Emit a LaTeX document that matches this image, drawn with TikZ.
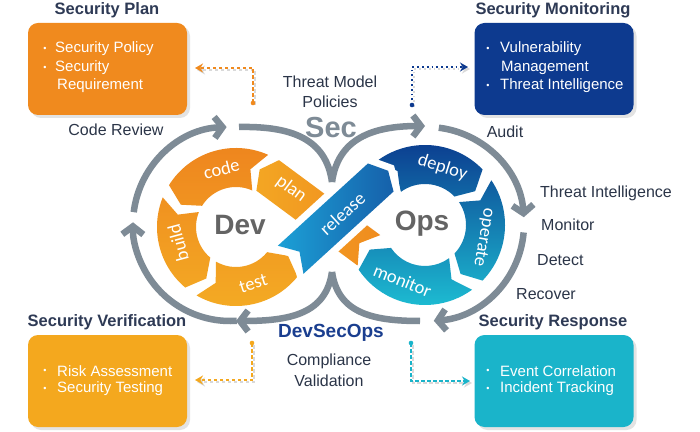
\documentclass[tikz,border=0pt]{standalone}
\usepackage{fontspec}
\setmainfont{Liberation Sans}
\newfontfamily\segfont{Carlito}
\usetikzlibrary{arrows.meta,calc,shadows}
\definecolor{loopgray}{RGB}{126,139,150}
\definecolor{txtdark}{RGB}{43,53,72}
\definecolor{titledark}{RGB}{46,58,85}
\definecolor{devtop}{RGB}{238,132,30}
\definecolor{devbot}{RGB}{244,172,36}
\definecolor{ordark}{RGB}{240,140,31}
\definecolor{orlight}{RGB}{243,166,35}
\definecolor{opstop}{RGB}{11,58,142}
\definecolor{opsmid}{RGB}{26,110,180}
\definecolor{opsbot}{RGB}{29,190,211}
\definecolor{relhead}{RGB}{22,96,170}
\definecolor{reltail}{RGB}{28,160,214}
\definecolor{planor}{RGB}{240,138,30}
\definecolor{monblue}{RGB}{13,58,143}
\definecolor{verior}{RGB}{244,168,30}
\definecolor{respcyan}{RGB}{26,180,202}
\definecolor{dsoblue}{RGB}{26,62,143}
\definecolor{devgray}{RGB}{100,100,100}
\newcommand\ringseg[5]{(#1:#5) arc[start angle=#1,end angle=#2,radius=#5] -- ({#2+#3}:{(#4+#5)/2}) -- (#2:#4) arc[start angle=#2,end angle=#1,radius=#4] -- ({#1+#3}:{(#4+#5)/2}) -- cycle}
\begin{document}
\begin{tikzpicture}[x=1pt,y=1pt,
  loopline/.style={draw=loopgray,line width=6.5pt},
  garrow/.style={-{Straight Barb[length=8pt,width=21pt]}},
  segtext/.style={font=\segfont\fontsize{18.5}{18.5}\selectfont,text=white,inner sep=0pt},
  lab/.style={font=\fontsize{16}{18}\selectfont,text=txtdark,inner sep=0pt},
  boxtitle/.style={font=\bfseries\fontsize{16.5}{18}\selectfont,text=titledark,inner sep=0pt},
  boxtext/.style={font=\fontsize{15}{16}\selectfont,text=white,inner sep=0pt,anchor=west},
  bul/.style={font=\fontsize{9}{10}\selectfont,text=white,inner sep=0pt},
  box/.style={rounded corners=10pt,minimum width=159pt,minimum height=92pt,inner sep=0pt,drop shadow={shadow xshift=3pt,shadow yshift=-3pt,opacity=0.22}},
  dashline/.style={line width=1.4pt,dash pattern=on 3.5pt off 2.5pt},
  dotline/.style={line width=1.8pt,dash pattern=on 1.8pt off 3pt},
  dtip/.style={-{Stealth[length=8pt,width=9pt]}}
]
\fill[white] (0,0) rectangle (700,431);
\useasboundingbox (0,0) rectangle (700,431);
\coordinate (L) at (230,207);
\coordinate (R) at (427,207);
\coordinate (DC) at (236,204);
\coordinate (OC) at (425,206);
% gray loop
\begin{scope}[loopline]
\draw[garrow] ($(L)+(-86:97)$) arc[start angle=-86,end angle=-181,radius=97];
\draw[garrow] ($(L)+(173:97)$) arc[start angle=173,end angle=92,radius=97];
\draw (239,304) .. controls (292,305) and (326,292) .. (332,249);
\draw[garrow] (332,249) .. controls (338,292) and (372,305) .. (425,305);
\draw[garrow] ($(R)+(83:97)$) arc[start angle=83,end angle=4,radius=97];
\draw[garrow] ($(R)+(-5:97)$) arc[start angle=-5,end angle=-86,radius=97];
\draw[garrow] (332,159) .. controls (326,118) and (292,110) .. (236,110);
\draw (332,159) .. controls (338,118) and (372,110) .. (420,110);
\end{scope}
% orange band (monitor -> plan)
\begin{scope}[shift={(332,208)},rotate=143.5]
\shade[left color=orlight,right color=ordark] (-46,19) -- (80,19) -- (90,0) -- (80,-19) -- (-46,-19) -- (-34,0) -- cycle;
\node[segtext,rotate=-36.5] (plantxt) at (53,-3) {plan};
\end{scope}
% Dev ring
\begin{scope}[shift={(DC)}]
\filldraw[white,line width=6pt] \ringseg{66}{148}{10}{40}{79} \ringseg{158}{230}{10}{40}{79} \ringseg{240}{321}{10}{40}{79};
\shade[top color=devtop,bottom color=devbot] \ringseg{66}{148}{10}{40}{79} \ringseg{158}{230}{10}{40}{79} \ringseg{240}{321}{10}{40}{79};
\node[segtext,rotate=14] (codetxt) at (104:60) {code};
\node[segtext,rotate=105] (buildtxt) at (195:60) {build};
\node[segtext,rotate=17] (testtxt) at (287:59) {test};
\end{scope}
% Ops ring
\begin{scope}[shift={(OC)}]
\filldraw[white,line width=6pt] \ringseg{127}{44}{-10}{41}{80} \ringseg{34}{-44}{-10}{41}{80} \ringseg{-54}{-146}{-10}{41}{80};
\shade[top color=opstop,middle color=opsmid,bottom color=opsbot] \ringseg{127}{44}{-10}{41}{80} \ringseg{34}{-44}{-10}{41}{80} \ringseg{-54}{-146}{-10}{41}{80};
\node[segtext,rotate=-17] (deploytxt) at (73:60) {deploy};
\node[segtext,rotate=-100] (operatetxt) at (-12:60) {operate};
\node[segtext,rotate=-22] (monitortxt) at (248:60) {monitor};
\end{scope}
% release
\begin{scope}[shift={(332,209)},rotate=42.4]
\filldraw[white,line width=14pt] (-56,19) -- (66,19) -- (76,0) -- (66,-19) -- (-56,-19) -- (-44,0) -- cycle;
\shade[left color=reltail,right color=relhead] (-56,19) -- (66,19) -- (76,0) -- (66,-19) -- (-56,-19) -- (-44,0) -- cycle;
\node[segtext,rotate=42.4] (reltxt) at (13,-1) {release};
\end{scope}
\node[font=\bfseries\fontsize{28}{30}\selectfont,text=devgray,inner sep=0pt] (dev) at (240,206) {Dev};
\node[font=\bfseries\fontsize{28}{30}\selectfont,text=devgray,inner sep=0pt] (ops) at (422,207) {Ops};
% labels
\node[font=\bfseries\fontsize{29}{30}\selectfont,text=loopgray,inner sep=0pt] (sec) at (331,303) {Sec};
\node[lab] (tm1) at (330,349) {Threat Model};
\node[lab] (tm2) at (330,329) {Policies};
\node[lab] (cr) at (116,301) {Code Review};
\node[lab] (audit) at (505,299) {Audit};
\node[lab,anchor=west] (ti) at (540,238) {Threat Intelligence};
\node[lab,anchor=west] (mon) at (541,206) {Monitor};
\node[lab,anchor=west] (det) at (537,171) {Detect};
\node[lab,anchor=west] (rec) at (516,137) {Recover};
\node[font=\bfseries\fontsize{19}{20}\selectfont,text=dsoblue,inner sep=0pt] (dso) at (331,98) {DevSecOps};
\node[lab] (cv1) at (329,70) {Compliance};
\node[lab] (cv2) at (329,50) {Validation};
% boxes
\node[box,fill=planor] (planbox) at (107.5,362) {};
\node[box,fill=monblue] (monbox) at (554,362) {};
\node[box,fill=verior] (veribox) at (107.5,50) {};
\node[box,fill=respcyan] (respbox) at (554,50) {};
\node[boxtitle] (plantitle) at (107,421) {Security Plan};
\node[boxtitle] (montitle) at (553,421) {Security Monitoring};
\node[boxtitle] (verititle) at (107,109) {Security Verification};
\node[boxtitle] (resptitle) at (553,109) {Security Response};
\node[bul] (pb1) at (45,382) {•};
\node[boxtext] (pt1) at (55,382) {Security Policy};
\node[bul] (pb2) at (45,363) {•};
\node[boxtext] (pt2) at (55,363) {Security};
\node[boxtext] (pt3) at (57,345) {Requirement};
\node[bul] (mb1) at (488,382) {•};
\node[boxtext] (mt1) at (500,382) {Vulnerability};
\node[boxtext] (mt2) at (501,363) {Management};
\node[bul] (mb2) at (488,345) {•};
\node[boxtext] (mt3) at (500,345) {Threat Intelligence};
\node[bul] (vb1) at (45,60) {•};
\node[boxtext] (vt1) at (57,60) {Risk Assessment};
\node[bul] (vb2) at (45,42) {•};
\node[boxtext] (vt2) at (57,42) {Security Testing};
\node[bul] (rb1) at (488,60) {•};
\node[boxtext] (rt1) at (500,60) {Event Correlation};
\node[bul] (rb2) at (488,42) {•};
\node[boxtext] (rt2) at (500,42) {Incident Tracking};
% dotted connectors
\coordinate (pd) at (253,328); \coordinate (pe) at (195,363);
\coordinate (md) at (412,326); \coordinate (me) at (468,364);
\coordinate (vd) at (252,88);  \coordinate (ve) at (195,51);
\coordinate (rd) at (411,88);  \coordinate (re) at (470,50);
\draw[dashline,dtip,black!15] ([shift={(2,-2)}]pd) |- ([shift={(2,-2)}]pe);
\draw[dashline,dtip,planor] (pd) |- (pe);
\fill[planor] (pd) circle (2.3);
\draw[dotline,dtip,black!15] ([shift={(2,-2)}]md) |- ([shift={(2,-2)}]me);
\draw[dotline,dtip,monblue] (md) |- (me);
\fill[monblue] (md) circle (2.3);
\draw[dashline,dtip,black!15] ([shift={(2,-2)}]vd) |- ([shift={(2,-2)}]ve);
\draw[dashline,dtip,verior] (vd) |- (ve);
\fill[verior] (vd) circle (2.3);
\draw[dashline,dtip,black!15] ([shift={(2,-2)}]rd) |- ([shift={(2,-2)}]re);
\draw[dashline,dtip,respcyan] (rd) |- (re);
\fill[respcyan] (rd) circle (2.3);
\end{tikzpicture}
\end{document}
